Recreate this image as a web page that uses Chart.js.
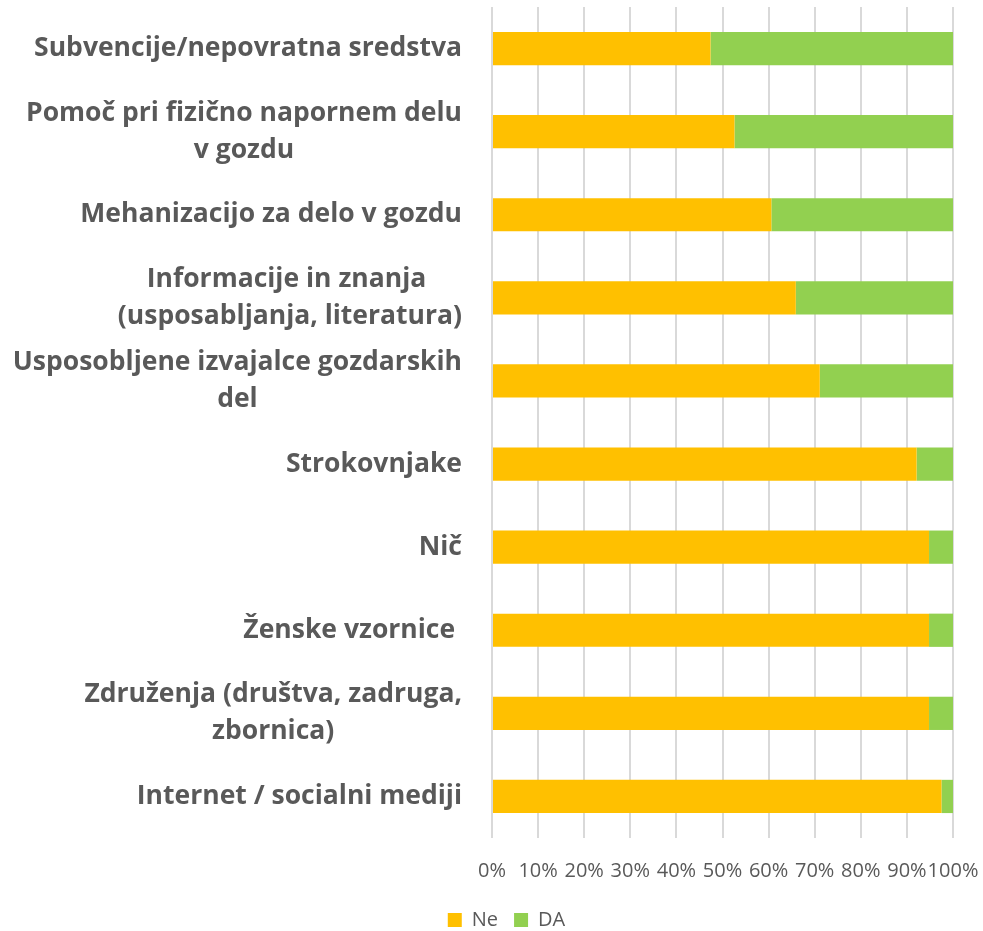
<!DOCTYPE html>
<html>
<head>
<meta charset="utf-8">
<script src="https://cdn.jsdelivr.net/npm/chart.js@4"></script>
<style>
  html, body { margin: 0; padding: 0; background: #fff; }
  #wrap { width: 983px; height: 931px; }
</style>
</head>
<body>
<div id="wrap"><canvas id="chart" width="983" height="931"></canvas></div>
<script>
const kategorije = [
  'Subvencije/nepovratna sredstva',
  ['Pomoč pri fizično napornem delu', 'v gozdu'],
  'Mehanizacijo za delo v gozdu',
  ['Informacije in znanja ', '(usposabljanja, literatura)'],
  ['Usposobljene izvajalce gozdarskih', 'del'],
  'Strokovnjake',
  'Nič',
  'Ženske vzornice ',
  ['Združenja (društva, zadruga,', 'zbornica)'],
  'Internet / socialni mediji'
];
const vrednostiNe = [47.4, 52.6, 60.6, 65.9, 71.1, 92.1, 94.8, 94.8, 94.8, 97.5];
const vrednostiDa = [52.6, 47.4, 39.4, 34.1, 28.9, 7.9, 5.2, 5.2, 5.2, 2.5];
const tickVrednosti = [0, 10, 20, 30, 40, 50, 60, 70, 80, 90, 100];

const labelFont = 'bold 26.5px "Open Sans"';
const labelColor = '#595959';

// Excel-style category labels: block right aligned, lines centered inside it
const categoryLabels = {
  id: 'categoryLabels',
  afterDraw(chart) {
    const ctx = chart.ctx;
    const y = chart.scales.y;
    const right = chart.chartArea.left - 30;
    const lineH = 37;
    ctx.save();
    ctx.font = labelFont;
    ctx.fillStyle = labelColor;
    ctx.textAlign = 'center';
    ctx.textBaseline = 'middle';
    kategorije.forEach((lab, i) => {
      const lines = Array.isArray(lab) ? lab : [lab];
      const w = Math.max(...lines.map(l => ctx.measureText(l).width));
      const cx = right - w / 2;
      const cy = y.getPixelForTick(i);
      const start = cy - (lines.length - 1) * lineH / 2;
      lines.forEach((l, k) => ctx.fillText(l, cx, start + k * lineH));
    });
    ctx.restore();
  }
};

const ctx = document.getElementById('chart');

new Chart(ctx, {
  type: 'bar',
  data: {
    labels: kategorije,
    datasets: [{
      label: 'Ne',
      data: vrednostiNe,
      backgroundColor: '#FFC000',
      borderWidth: 0,
      barPercentage: 0.4,
      categoryPercentage: 1
    }, {
      label: 'DA',
      data: vrednostiDa,
      backgroundColor: '#92D050',
      borderWidth: 0,
      barPercentage: 0.4,
      categoryPercentage: 1
    }]
  },
  options: {
    indexAxis: 'y',
    responsive: false,
    animation: false,
    layout: {
      padding: { top: 7, right: 30, left: 60, bottom: -9 }
    },
    scales: {
      x: {
        stacked: true,
        min: 0,
        max: 100,
        afterBuildTicks: (scale) => {
          scale.ticks = tickVrednosti.map(v => ({ value: v }));
        },
        afterFit: (scale) => {
          scale.height = 56;
          scale.paddingLeft = 0;
          scale.paddingRight = 0;
        },
        grid: {
          color: '#d9d9d9',
          lineWidth: 2,
          drawTicks: false
        },
        border: { display: false },
        ticks: {
          padding: 21,
          color: '#595959',
          font: { family: 'Open Sans', size: 20 },
          maxRotation: 0,
          autoSkip: false,
          callback: (v) => v + '%'
        }
      },
      y: {
        stacked: true,
        afterFit: (scale) => { scale.width = 432; },
        grid: { display: false },
        border: { display: false },
        ticks: { display: false }
      }
    },
    plugins: {
      legend: {
        position: 'bottom',
        labels: {
          boxWidth: 14,
          boxHeight: 14,
          padding: 16,
          color: '#595959',
          font: { family: 'Open Sans', size: 20 }
        }
      },
      tooltip: { enabled: false }
    }
  },
  plugins: [categoryLabels]
});
</script>
</body>
</html>
